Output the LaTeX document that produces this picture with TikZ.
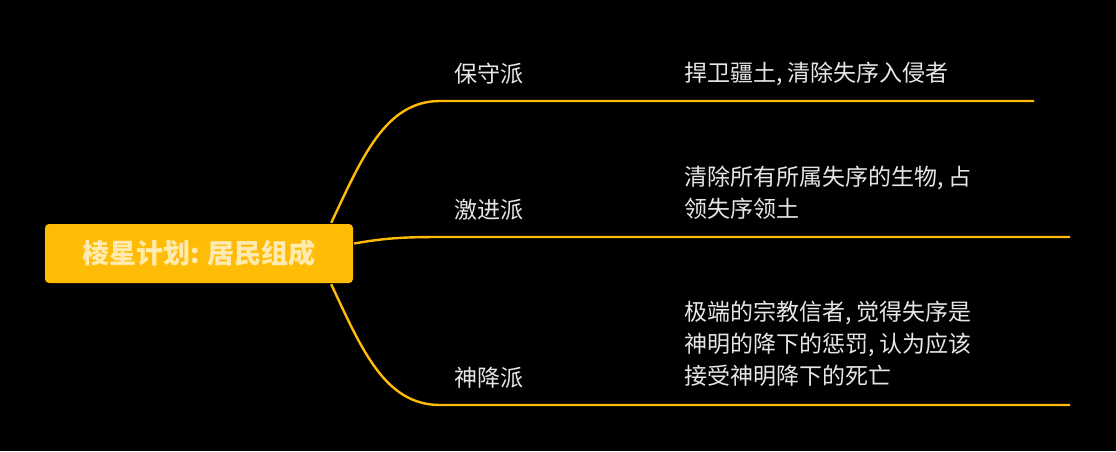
\documentclass[tikz,border=0pt]{standalone}
\usepackage{fontspec}
\setmainfont{Noto Sans CJK SC}
\usepackage{xcolor}
\definecolor{branchcol}{HTML}{FFBA0A}
\definecolor{rootfill}{HTML}{FFBC06}
\definecolor{roottext}{HTML}{FFEBB0}
\definecolor{labeltext}{HTML}{E6E6E6}

\begin{document}
\begin{tikzpicture}[x=1pt, y=-1pt, line width=2.4pt]
    \useasboundingbox (0,0) rectangle (1116,451);
    \fill [black] (0,0) rectangle (1116,451);

    % Define nodes
    \node [rectangle, fill=rootfill, rounded corners=4pt, minimum width=308pt, minimum height=59pt,
           text=roottext, font=\fontsize{27}{30}\selectfont\bfseries] (root) at (199,253.5) {棱星计划: 居民组成};

    \node [anchor=west, inner sep=0, text=labeltext, font=\fontsize{23}{32}\selectfont] (conserv) at (453,74) {保守派};
    \node [anchor=west, inner sep=0, text=labeltext, font=\fontsize{23}{32}\selectfont] (radical) at (453,210) {激进派};
    \node [anchor=west, inner sep=0, text=labeltext, font=\fontsize{23}{32}\selectfont] (divine) at (453,378) {神降派};

    \node [anchor=west, inner sep=0, text=labeltext, align=left, font=\fontsize{23}{32}\selectfont] (conservdesc) at (683,74) {捍卫疆土, 清除失序入侵者};
    \node [anchor=west, inner sep=0, text=labeltext, align=left, font=\fontsize{23}{32}\selectfont] (radicaldesc) at (683,193) {清除所有所属失序的生物, 占\\领失序领土};
    \node [anchor=west, inner sep=0, text=labeltext, align=left, font=\fontsize{23}{32}\selectfont] (divinedesc) at (683,344) {极端的宗教信者, 觉得失序是\\神明的降下的惩罚, 认为应该\\接受神明降下的死亡};

    \coordinate (conservend) at (1034,101);
    \coordinate (radicalend) at (1070,237);
    \coordinate (divineend) at (1070,405);

    % Draw edges
    \draw [branchcol] ([xshift=-23pt]root.north east) .. controls (362,158) and (385,101) .. (440,101) -- (conservend);
    \draw [branchcol] ([yshift=10pt]root.east) .. controls (385,238) and (405,237) .. (440,237) -- (radicalend);
    \draw [branchcol] ([xshift=-23pt]root.south east) .. controls (362,350) and (385,405) .. (440,405) -- (divineend);
\end{tikzpicture}
\end{document}
